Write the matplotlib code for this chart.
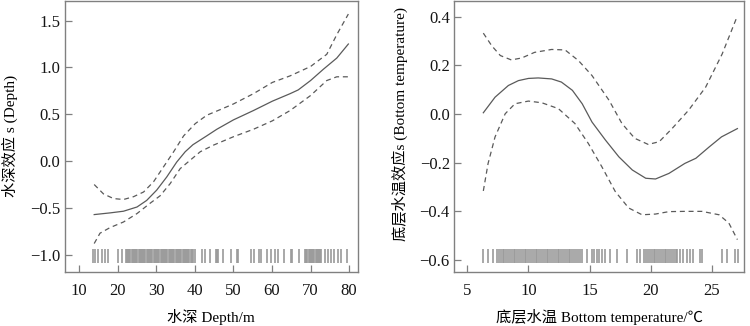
import numpy as np
import matplotlib
matplotlib.use("Agg")
import matplotlib.pyplot as plt
import matplotlib.transforms as mtransforms

plt.rcParams['font.family'] = ['Liberation Serif', 'Noto Sans CJK SC', 'DejaVu Sans']
plt.rcParams['font.size'] = 11
plt.rcParams['axes.unicode_minus'] = True

# --- depth panel ---
depth_fit_x = [13.9, 18.0, 21.5, 25.0, 27.5, 30.1, 32.7, 35.3, 37.5, 39.5, 43.1, 45.7,
               50.0, 55.2, 60.1, 64.7, 66.8, 70.0, 73.3, 76.8, 79.8]
depth_fit_y = [-0.571, -0.553, -0.535, -0.49, -0.42, -0.31, -0.17, -0.01, 0.10, 0.175, 0.27, 0.34,
               0.44, 0.54, 0.64, 0.72, 0.76, 0.86, 0.98, 1.10, 1.25]

depth_up_x = [13.9, 16.3, 18.9, 21.5, 24.1, 26.7, 29.3, 31.9, 34.5, 37.1, 40.1, 43.1, 46.6,
              50.0, 55.2, 60.1, 64.7, 70.0, 74.2, 76.8, 79.8]
depth_up_y = [-0.25, -0.35, -0.40, -0.41, -0.38, -0.33, -0.22, -0.06, 0.10, 0.27, 0.40, 0.49, 0.55,
              0.61, 0.72, 0.84, 0.91, 1.01, 1.14, 1.35, 1.57]

depth_lo_x = [13.9, 15.4, 18.0, 21.5, 25.0, 28.4, 31.0, 33.6, 36.2, 38.8, 41.4, 44.8, 50.0,
              55.2, 60.1, 64.7, 70.0, 74.2, 76.8, 79.8]
depth_lo_y = [-0.88, -0.77, -0.71, -0.65, -0.56, -0.45, -0.37, -0.24, -0.08, 0.01, 0.10, 0.17, 0.26,
              0.34, 0.43, 0.54, 0.70, 0.86, 0.90, 0.90]

depth_rug = [13.6, 14.2, 14.9, 15.8, 16.7, 17.5, 20.1, 21.0,
             22.1, 22.4, 22.7, 23.0, 23.3, 23.6, 23.9, 24.2, 24.5, 24.8, 25.1, 25.4,
             25.7, 26.0, 26.3, 26.6, 26.9, 27.2, 27.5, 27.8, 28.1, 28.4, 28.7, 29.0,
             29.3, 29.6, 29.9, 30.2, 30.5, 30.8, 31.1, 31.4, 31.7, 32.0, 32.3, 32.6,
             32.9, 33.2, 33.5, 33.8, 34.1, 34.4, 34.7, 35.0, 35.3, 35.6, 35.9, 36.2,
             36.5, 36.8, 37.1, 37.4, 37.7, 38.0, 38.3, 38.6, 38.9, 39.2, 39.5,
             40.1, 41.9, 42.7, 43.9, 45.4, 45.7, 46.0, 47.3, 49.5, 50.8, 51.1,
             54.5, 55.3, 56.6, 57.2, 58.8, 59.7, 60.7, 61.6, 63.1, 65.0, 65.3, 66.9,
             68.6, 68.9, 69.2, 69.5, 69.8, 70.1, 70.4, 70.7, 71.0, 71.3, 71.6, 71.9,
             72.2, 72.5, 72.8,
             73.7, 74.5, 75.4, 76.2, 77.1, 78.0, 79.5]

# --- bottom temperature panel ---
temp_fit_x = [6.31, 7.27, 8.36, 9.18, 10.0, 10.8, 11.9, 12.7, 13.6, 14.4, 15.2, 16.3, 17.4,
              18.5, 19.6, 20.4, 21.5, 22.8, 23.7, 24.8, 25.8, 27.1]
temp_fit_y = [0.005, 0.069, 0.117, 0.137, 0.146, 0.148, 0.144, 0.131, 0.097, 0.042, -0.033,
              -0.107, -0.176, -0.23, -0.264, -0.267, -0.244, -0.203, -0.182, -0.135, -0.094, -0.06]

temp_up_x = [6.31, 7.0, 7.7, 8.6, 9.45, 10.5, 11.9, 13.0, 14.1, 15.2, 16.6, 17.65, 18.7,
             19.8, 20.7, 21.75, 23.1, 24.5, 25.85, 27.1]
temp_up_y = [0.332, 0.28, 0.24, 0.222, 0.23, 0.253, 0.265, 0.263, 0.219, 0.158, 0.056, -0.039,
             -0.10, -0.125, -0.114, -0.06, 0.015, 0.11, 0.246, 0.403]

temp_lo_x = [6.31, 6.7, 7.27, 8.1, 8.9, 10.0, 11.1, 12.45, 13.8, 14.9, 16.0, 17.1, 18.2,
             19.3, 20.4, 21.5, 22.8, 24.2, 25.6, 26.4, 27.1]
temp_lo_y = [-0.316, -0.203, -0.094, 0.001, 0.042, 0.053, 0.046, 0.022, -0.039, -0.121, -0.216,
             -0.318, -0.386, -0.414, -0.411, -0.401, -0.40, -0.40, -0.414, -0.448, -0.516]

temp_rug = [6.31, 6.72, 7.13, 7.40, 7.62,
            7.73, 7.88, 8.03, 8.18, 8.33, 8.48, 8.63, 8.78, 8.93, 9.08, 9.23, 9.38,
            9.53, 9.68, 9.83, 9.98, 10.13, 10.28, 10.43, 10.58, 10.73, 10.88, 11.03,
            11.18, 11.33, 11.48, 11.63, 11.78, 11.93, 12.08, 12.23, 12.38, 12.53, 12.68,
            12.83, 12.98, 13.13, 13.28, 13.43, 13.58, 13.73, 13.88, 14.03, 14.22,
            14.36, 14.77, 15.18, 15.37, 15.59, 15.80, 16.00, 16.27, 16.68, 17.22,
            18.04, 18.86, 19.13,
            19.49, 19.64, 19.79, 19.94, 20.09, 20.24, 20.39, 20.54, 20.69, 20.84, 20.99,
            21.14, 21.29, 21.44, 21.59, 21.74, 21.89, 22.04, 22.19, 22.4,
            22.68, 22.95, 23.22, 23.50, 24.04, 24.18, 25.82, 26.23, 26.91, 27.18]

line_col = '#5a5a5a'
rug_col = '#9a9a9a'
spine_col = '#808080'

fig = plt.figure(figsize=(7.5, 3.26), dpi=100)
ax1 = fig.add_axes([64.5 / 750, 1 - 272 / 326, (358 - 64.5) / 750, 272 / 326 - 0.002])
ax2 = fig.add_axes([454 / 750, 1 - 272 / 326, (744 - 454) / 750, 271 / 326])


def style(ax):
    for s in ax.spines.values():
        s.set_color(spine_col)
        s.set_linewidth(1.0)
    ax.tick_params(direction='in', length=5, width=0.9, color=spine_col,
                   labelcolor='#151515', labelsize=12)
    ax.tick_params(axis='x', pad=8)
    ax.tick_params(axis='y', pad=3)


def draw(ax, fx, fy, ux, uy, lx, ly, rug):
    ax.plot(fx, fy, color=line_col, lw=0.9)
    ax.plot(ux, uy, color=line_col, lw=0.9, ls=(0, (4, 3)))
    ax.plot(lx, ly, color=line_col, lw=0.9, ls=(0, (4, 3)))
    trans = mtransforms.blended_transform_factory(ax.transData, ax.transAxes)
    ax.vlines(rug, 0.033, 0.085, transform=trans, color=rug_col, lw=1.2)


draw(ax1, depth_fit_x, depth_fit_y, depth_up_x, depth_up_y, depth_lo_x, depth_lo_y, depth_rug)
ax1.set_xlim(6.2, 82.3)
ax1.set_ylim(-1.184, 1.713)
ax1.set_xticks([10, 20, 30, 40, 50, 60, 70, 80])
ax1.set_yticks([-1.0, -0.5, 0.0, 0.5, 1.0, 1.5])
ax1.set_yticklabels(['\u22121.0', '\u22120.5', '0.0', '0.5', '1.0', '1.5'])
ax1.set_xlabel('水深 Depth/m')
ax1.set_ylabel('水深效应 s (Depth)')
ax1.xaxis.set_label_coords(0.5, -0.135)
ax1.yaxis.set_label_coords(-0.16, 0.5)
style(ax1)

draw(ax2, temp_fit_x, temp_fit_y, temp_up_x, temp_up_y, temp_lo_x, temp_lo_y, temp_rug)
ax2.set_xlim(3.91, 27.64)
ax2.set_ylim(-0.649, 0.464)
ax2.set_xticks([5, 10, 15, 20, 25])
ax2.set_yticks([-0.6, -0.4, -0.2, 0.0, 0.2, 0.4])
ax2.set_yticklabels(['\u22120.6', '\u22120.4', '\u22120.2', '0.0', '0.2', '0.4'])
ax2.set_xlabel('底层水温 Bottom temperature/℃')
ax2.set_ylabel('底层水温效应s (Bottom temperature)')
ax2.xaxis.set_label_coords(0.5, -0.135)
ax2.yaxis.set_label_coords(-0.157, 0.545)
style(ax2)

fig.savefig('out.png', dpi=100)
